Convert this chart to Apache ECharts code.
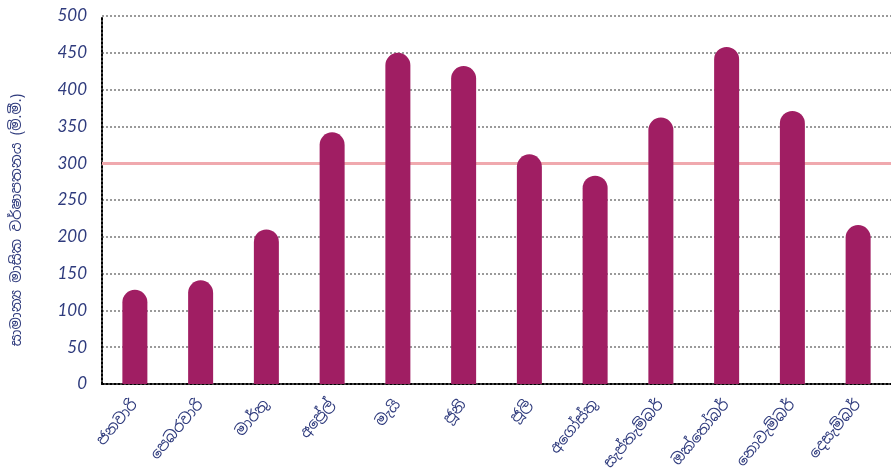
<!DOCTYPE html>
<html>
<head>
<meta charset="utf-8">
<script src="https://cdn.jsdelivr.net/npm/echarts@6/dist/echarts.min.js"></script>
<style>html,body{margin:0;padding:0;background:#fff;}#c{width:891px;height:468px;}</style>
</head>
<body>
<div id="c"></div>
<script>
const months = ['ජනවාරි','පෙබරවාරි','මාර්තු','අප්‍රේල්','මැයි','ජූනි','ජූලි','අගෝස්තු','සැප්තැම්බර්','ඔක්තෝබර්','නොවැම්බර්','දෙසැම්බර්'];
const rainfall = [128, 141, 210, 342, 450, 432, 312, 283, 362, 458, 371, 216];
const referenceLine = 300;
const yAxisTitle = 'සාමාන්‍ය මාසික වර්ෂාපතනය (මි.මී.)';
const yMin = 0, yMax = 500, yStep = 50;

const textBlue = '#2f3b7d';
const sinhalaFont = 'Noto Sans Sinhala, Noto Sans, sans-serif';
const chart = echarts.init(document.getElementById('c'));
chart.setOption({
  animation: false,
  grid: {left: 102, right: 0, top: 16, bottom: 84, containLabel: false, outerBoundsMode: 'none'},
  graphic: [{
    type: 'text',
    x: 17, y: 220,
    rotation: Math.PI / 2,
    style: {text: yAxisTitle, fill: textBlue, fontSize: 14.5, fontFamily: sinhalaFont, align: 'center', verticalAlign: 'middle'}
  }],
  xAxis: {
    type: 'category',
    data: months,
    axisLine: {lineStyle: {color: '#000', width: 2, type: [2, 2]}},
    axisTick: {show: false},
    axisLabel: {rotate: 50, color: textBlue, fontSize: 15, margin: 18, fontFamily: sinhalaFont}
  },
  yAxis: {
    type: 'value',
    min: yMin, max: yMax, interval: yStep,
    axisLine: {show: true, lineStyle: {color: '#000', width: 2, type: [2, 2]}},
    axisTick: {show: false},
    axisLabel: {color: textBlue, fontSize: 17, fontStyle: 'italic', fontWeight: 'normal', fontFamily: 'Lato, sans-serif', margin: 15},
    splitLine: {lineStyle: {color: '#9a9a9a', width: 2, type: [2, 2]}}
  },
  series: [{
    type: 'bar',
    z: 3,
    data: rainfall,
    barWidth: 25,
    itemStyle: {color: '#a01e63', borderRadius: [12.5, 12.5, 0, 0]},
    markLine: {
      z: 1,
      silent: true,
      symbol: 'none',
      label: {show: false},
      lineStyle: {color: '#f0a9ae', width: 3, type: 'solid'},
      data: [{yAxis: referenceLine}]
    }
  }]
});
</script>
</body>
</html>
